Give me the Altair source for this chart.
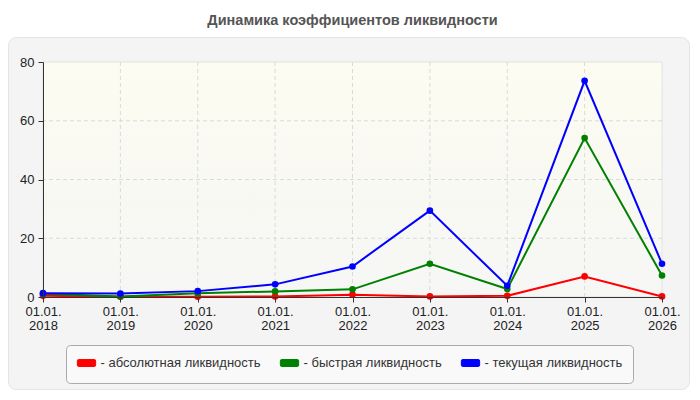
import altair as alt
import pandas as pd

# ---- data ----
years = [2018, 2019, 2020, 2021, 2022, 2023, 2024, 2025, 2026]
absolute_liq = [0.4, 0.1, 0.1, 0.2, 0.8, 0.2, 0.4, 7.0, 0.2]
quick_liq = [1.1, 0.2, 1.3, 1.9, 2.6, 11.3, 2.7, 54.1, 7.3]
current_liq = [1.3, 1.2, 2.0, 4.3, 10.4, 29.4, 3.8, 73.6, 11.3]

series_names = ["абсолютная ликвидность", "быстрая ликвидность", "текущая ликвидность"]
series_colors = ["#ff0000", "#008000", "#0000ff"]
y_ticks = [0, 20, 40, 60, 80]
date_prefix = "01.01."
title_text = "Динамика коэффициентов ликвидности"

FONT = "Liberation Sans, Arial, sans-serif"
W, H = 619, 235

rows = []
for name, vals in zip(series_names, [absolute_liq, quick_liq, current_liq]):
    for yr, v in zip(years, vals):
        rows.append({"year": yr, "value": v, "series": name})
df = pd.DataFrame(rows)

x_scale = alt.Scale(domain=[years[0], years[-1]], nice=False, zero=False)
y_scale = alt.Scale(domain=[y_ticks[0], y_ticks[-1]], nice=False)
color_scale = alt.Scale(domain=series_names, range=series_colors)

one = alt.Data(values=[{}])

# outer rounded panel (decoration)
panel = alt.Chart(one).mark_rect(
    fill="#f4f4f4", stroke="#e4e4e4", strokeWidth=1, cornerRadius=8
).encode(
    x=alt.value(-34.5), x2=alt.value(W + 27.5),
    y=alt.value(-24.5), y2=alt.value(H + 92.5),
)

# plot-area background
plot_bg = alt.Chart(one).mark_rect(
    fill=alt.Gradient(
        gradient="linear",
        stops=[alt.GradientStop(color="#fcfcf1", offset=0),
               alt.GradientStop(color="#f6f6f5", offset=1)],
        x1=0, x2=0, y1=0, y2=1,
    ),
    stroke="#e2e2e2", strokeWidth=1,
).encode(
    x=alt.datum(years[0], scale=x_scale), x2=alt.datum(years[-1]),
    y=alt.datum(y_ticks[-1], scale=y_scale), y2=alt.datum(y_ticks[0]),
)

# legend frame (decoration)
legend_box = alt.Chart(one).mark_rect(
    fill="#f9f9f9", stroke="#aaaaaa", strokeWidth=1, cornerRadius=4
).encode(
    x=alt.value(23.5), x2=alt.value(590.5),
    y=alt.value(283.5), y2=alt.value(321.5),
)

# dashed gridlines
hgrid = alt.Chart(pd.DataFrame({"v": y_ticks[1:-1]})).mark_rule(
    color="#dadada", strokeDash=[4, 3], strokeWidth=1
).encode(y=alt.Y("v:Q", scale=y_scale))
vgrid = alt.Chart(pd.DataFrame({"yr": years[1:-1]})).mark_rule(
    color="#dadada", strokeDash=[4, 3], strokeWidth=1
).encode(x=alt.X("yr:Q", scale=x_scale))

x_axis = alt.Axis(
    values=years, format="d",
    labelExpr=f"['{date_prefix}', datum.label]",
    labelLineHeight=14, labelPadding=3, tickSize=5, grid=False,
    labelFlush=False, labelOverlap=False,
    title=None, zindex=1,
)
y_axis = alt.Axis(values=y_ticks, labelPadding=4, tickSize=5, grid=False,
                  labelFlush=False, title=None, zindex=1)

swatch = ("M-0.85,-0.38 L0.85,-0.38 Q1,-0.38 1,-0.23 L1,0.23 Q1,0.38 0.85,0.38 "
          "L-0.85,0.38 Q-1,0.38 -1,0.23 L-1,-0.23 Q-1,-0.38 -0.85,-0.38 Z")

legend = alt.Legend(
    orient="none", legendX=33.5, legendY=291, direction="horizontal",
    title=None, symbolType=swatch, symbolSize=335,
    symbolFillColor="black",
    symbolStrokeColor="rgba(0,0,0,0.35)", symbolStrokeWidth=1,
    labelExpr="'- ' + datum.label", labelFont=FONT, labelFontSize=13,
    labelColor="#333333", labelLimit=400, labelOffset=4,
    columnPadding=16, padding=0, zindex=2,
)

lines = alt.Chart(df).mark_line(strokeWidth=2).encode(
    x=alt.X("year:Q", scale=x_scale, axis=x_axis),
    y=alt.Y("value:Q", scale=y_scale, axis=y_axis),
    color=alt.Color("series:N", scale=color_scale, legend=legend),
    detail="series:N",
)

points = alt.Chart(df).mark_circle(size=44, opacity=1).encode(
    x=alt.X("year:Q", scale=x_scale),
    y=alt.Y("value:Q", scale=y_scale),
    color=alt.Color("series:N", scale=color_scale, legend=legend),
)

chart = alt.layer(panel, plot_bg, legend_box, hgrid, vgrid, lines, points).properties(
    width=W, height=H,
    background="white",
    title=alt.TitleParams(
        title_text, font=FONT, fontSize=14.5, fontWeight="bold",
        color="#555555", anchor="middle", offset=9,
    ),
    autosize=alt.AutoSizeParams(type="none"),
    padding={"left": 35, "top": 54, "right": 28, "bottom": 93},
).configure_view(stroke=None).configure_axis(
    labelFont=FONT, labelFontSize=13, labelColor="#222222",
    domainColor="#333333", tickColor="#333333",
)

chart.save("out.html", embed_options={"renderer": "svg", "actions": False})
